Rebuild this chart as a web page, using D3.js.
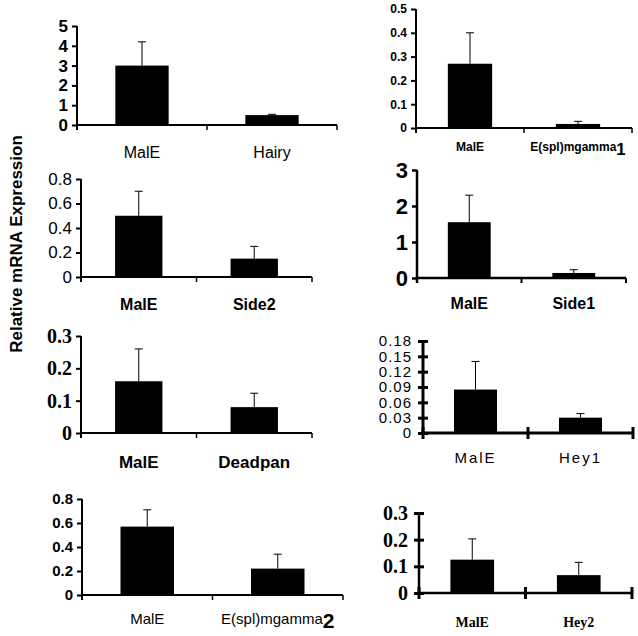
<!DOCTYPE html>
<html><head><meta charset="utf-8">
<script src="https://cdn.jsdelivr.net/npm/d3@7"></script>
<style>body{margin:0;background:#fff;} svg{display:block;}</style>
</head><body>
<svg id="c" width="638" height="636"></svg>
<script>
// ---- data ----
const controlName = "MalE";
const genes = ["Hairy", "E(spl)mgamma", "Side2", "Side1", "Deadpan", "Hey1", "E(spl)mgamma", "Hey2"];
const geneSubscripts = ["", "1", "", "", "", "", "2", ""];
const maleValues = [3.0, 0.27, 0.50, 1.55, 0.16, 0.085, 0.57, 0.125];
const maleErrors = [1.2, 0.13, 0.20, 0.75, 0.10, 0.055, 0.14, 0.078];
const geneValues = [0.50, 0.017, 0.15, 0.14, 0.08, 0.030, 0.22, 0.067];
const geneErrors = [0.04, 0.011, 0.10, 0.09, 0.043, 0.008, 0.12, 0.048];
const yTicks = [
  [0, 1, 2, 3, 4, 5],
  [0, 0.1, 0.2, 0.3, 0.4, 0.5],
  [0, 0.2, 0.4, 0.6, 0.8],
  [0, 1, 2, 3],
  [0, 0.1, 0.2, 0.3],
  [0, 0.03, 0.06, 0.09, 0.12, 0.15, 0.18],
  [0, 0.2, 0.4, 0.6, 0.8],
  [0, 0.1, 0.2, 0.3]
];
const yTickLabels = [
  ["0", "1", "2", "3", "4", "5"],
  ["0", "0.1", "0.2", "0.3", "0.4", "0.5"],
  ["0", "0.2", "0.4", "0.6", "0.8"],
  ["0", "1", "2", "3"],
  ["0", "0.1", "0.2", "0.3"],
  ["0", "0.03", "0.06", "0.09", "0.12", "0.15", "0.18"],
  ["0", "0.2", "0.4", "0.6", "0.8"],
  ["0", "0.1", "0.2", "0.3"]
];
const yLabel = "Relative mRNA Expression";

// ---- layout / style (per panel) ----
const layout = [
  {x0: 77, x1: 337, y0: 125, yT: 26, lblY: 152, tf: "Liberation Sans", ts: 17, tw: "bold", lf: "Liberation Sans", ls: 16, lw: "normal", lsp: 0, sw: 2, cross: false},
  {x0: 416, x1: 632, y0: 128, yT: 9, lblY: 147, tf: "Liberation Sans", ts: 12, tw: "bold", lf: "Liberation Sans", ls: 12, lw: "bold", lsp: 0, sw: 2, cross: false},
  {x0: 81, x1: 312, y0: 277, yT: 179, lblY: 304, tf: "Liberation Sans", ts: 17, tw: "normal", lf: "Liberation Sans", ls: 16, lw: "bold", lsp: 0, sw: 2, cross: false},
  {x0: 417, x1: 626, y0: 278, yT: 170, lblY: 303, tf: "Liberation Sans", ts: 22, tw: "bold", lf: "Liberation Sans", ls: 16, lw: "bold", lsp: 0, sw: 2.5, cross: false},
  {x0: 81, x1: 312, y0: 433, yT: 336, lblY: 462, tf: "Liberation Sans Narrow", ts: 20, tw: "bold", lf: "Liberation Sans", ls: 17, lw: "bold", lsp: 0, sw: 2, cross: false},
  {x0: 423, x1: 633, y0: 433, yT: 341, lblY: 457, tf: "Liberation Sans", ts: 15, tw: "normal", lf: "Liberation Sans", ls: 15, lw: "normal", lsp: 2, sw: 3, cross: true},
  {x0: 82, x1: 343, y0: 595, yT: 499, lblY: 618, tf: "Liberation Sans", ts: 15, tw: "bold", lf: "Liberation Sans", ls: 15, lw: "normal", lsp: 0, sw: 2, cross: false},
  {x0: 419, x1: 632, y0: 593, yT: 513, lblY: 622, tf: "Liberation Serif", ts: 20, tw: "bold", lf: "Liberation Serif", ls: 14, lw: "bold", lsp: 0, sw: 2.5, cross: true}
];

const svg = d3.select("#c");

genes.forEach((gene, i) => {
  const L = layout[i];
  const g = svg.append("g");
  const cats = [controlName, gene + "#" + i];
  const vals = [maleValues[i], geneValues[i]];
  const errs = [maleErrors[i], geneErrors[i]];
  const ticks = yTicks[i];
  const x = d3.scaleBand().domain(cats).range([L.x0, L.x1]).padding(0);
  const y = d3.scaleLinear().domain([0, ticks[ticks.length - 1]]).range([L.y0, L.yT]);
  const bw = x.bandwidth() * 0.41;

  // bars
  g.selectAll("rect").data(cats).enter().append("rect")
    .attr("x", d => x(d) + (x.bandwidth() - bw) / 2)
    .attr("width", bw)
    .attr("y", (d, j) => y(vals[j]))
    .attr("height", (d, j) => L.y0 - y(vals[j]))
    .attr("fill", "#000");

  // error bars (upper only)
  cats.forEach((c, j) => {
    const cx = x(c) + x.bandwidth() / 2;
    g.append("line").attr("x1", cx).attr("x2", cx)
      .attr("y1", y(vals[j])).attr("y2", y(vals[j] + errs[j]))
      .attr("stroke", "#000").attr("stroke-width", 1);
    g.append("line").attr("x1", cx - 4).attr("x2", cx + 4)
      .attr("y1", y(vals[j] + errs[j])).attr("y2", y(vals[j] + errs[j]))
      .attr("stroke", "#000").attr("stroke-width", 1);
  });

  // y axis
  const ya = d3.axisLeft(y).tickValues(ticks)
    .tickFormat((d, k) => yTickLabels[i][k])
    .tickSizeOuter(0).tickSizeInner(5).tickPadding(L.cross ? 6 : 4);
  const yg = g.append("g").attr("transform", `translate(${L.x0},0)`).call(ya);
  yg.select(".domain").attr("stroke-width", L.sw).attr("d", `M0,${L.y0}V${L.yT}`);
  yg.selectAll(".tick line").attr("stroke-width", L.cross ? 3 : L.sw)
    .attr("x1", L.cross ? 5 : 0);
  yg.selectAll(".tick text").attr("font-family", L.tf).attr("font-size", L.ts)
    .attr("font-weight", L.tw).attr("letter-spacing", L.lsp ? 1 : 0).attr("fill", "#000");

  // x axis
  g.append("line").attr("x1", L.x0 - L.sw / 2).attr("x2", L.x1).attr("y1", L.y0).attr("y2", L.y0)
    .attr("stroke", "#000").attr("stroke-width", L.sw);
  const bounds = cats.map(c => x(c)).concat([x.range()[1]]);
  bounds.forEach((bx, k) => {
    if (k === 0 && !L.cross) {
      g.append("line").attr("x1", bx).attr("x2", bx).attr("y1", L.y0).attr("y2", L.y0 + 5)
        .attr("stroke", "#000").attr("stroke-width", L.sw);
      return;
    }
    g.append("line").attr("x1", bx).attr("x2", bx)
      .attr("y1", L.cross ? L.y0 - 6 : L.y0).attr("y2", L.y0 + (L.cross ? 6 : 5))
      .attr("stroke", "#000").attr("stroke-width", L.cross ? 3 : Math.max(1.5, L.sw - 0.5));
  });

  // category labels
  cats.forEach((c, j) => {
    const t = g.append("text")
      .attr("x", x(c) + x.bandwidth() / 2).attr("y", L.lblY)
      .attr("text-anchor", "middle").attr("dominant-baseline", "central")
      .attr("font-family", L.lf).attr("font-size", L.ls).attr("font-weight", L.lw)
      .attr("letter-spacing", L.lsp).attr("fill", "#000");
    if (j === 0) t.text(controlName);
    else {
      t.append("tspan").text(gene);
      if (geneSubscripts[i]) {
        t.append("tspan").attr("font-size", L.ls * 1.4).attr("font-weight", "bold")
          .attr("font-family", "Liberation Sans").attr("dy", 2).text(geneSubscripts[i]);
      }
    }
  });
});

// shared y label
svg.append("text")
  .attr("transform", "translate(16,244) rotate(-90)")
  .attr("text-anchor", "middle").attr("dominant-baseline", "central")
  .attr("font-family", "Liberation Sans").attr("font-size", 17).attr("font-weight", "bold")
  .attr("fill", "#000").text(yLabel);
</script>
</body></html>
